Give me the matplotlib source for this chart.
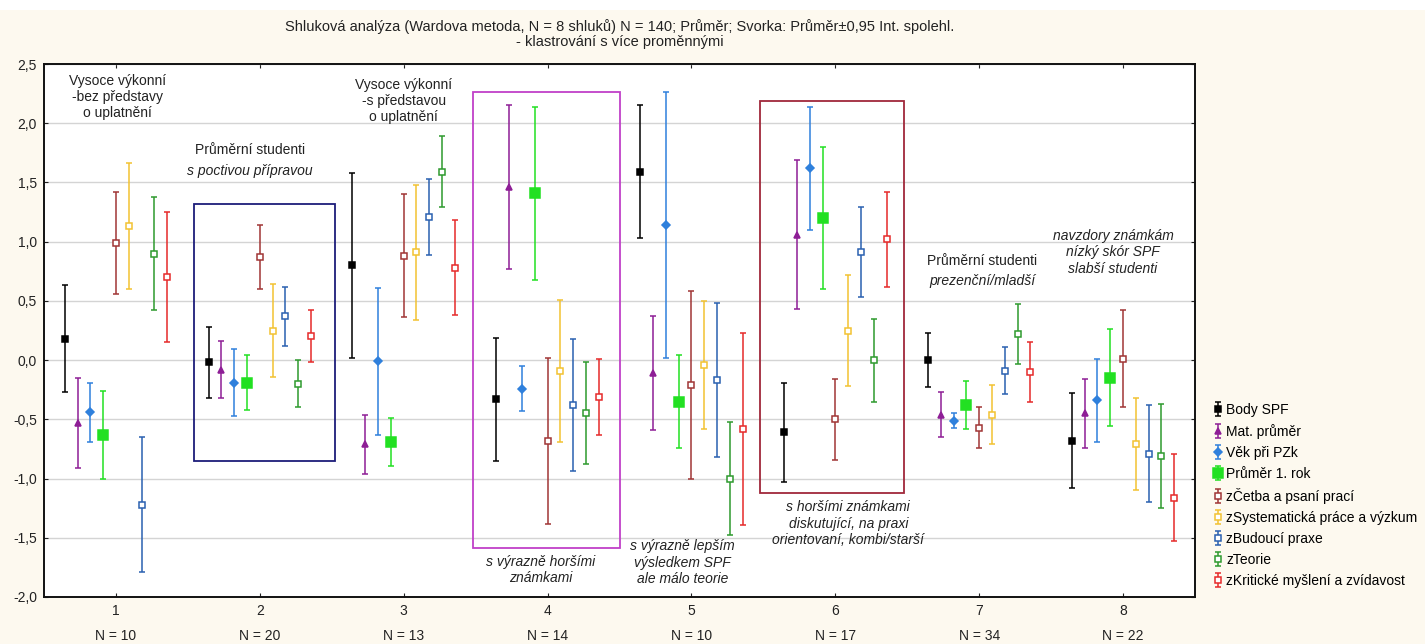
import numpy as np
import matplotlib
matplotlib.use('Agg')
import matplotlib.pyplot as plt
from matplotlib.patches import Rectangle

plt.rcParams['font.family'] = ['Liberation Sans', 'DejaVu Sans']

clusters = [1, 2, 3, 4, 5, 6, 7, 8]
cluster_n = [10, 20, 13, 14, 10, 17, 34, 22]

series_names = ['Body SPF', 'Mat. průměr', 'Věk při PZk', 'Průměr 1. rok',
                'zČetba a psaní prací', 'zSystematická práce a výzkum',
                'zBudoucí praxe', 'zTeorie', 'zKritické myšlení a zvídavost']

# means per cluster
body_spf = [0.18, -0.02, 0.80, -0.33, 1.59, -0.61, 0.00, -0.68]
mat_prumer = [-0.53, -0.08, -0.71, 1.46, -0.11, 1.06, -0.46, -0.45]
vek_pzk = [-0.44, -0.19, -0.01, -0.24, 1.14, 1.62, -0.51, -0.34]
prumer_1rok = [-0.63, -0.19, -0.69, 1.41, -0.35, 1.20, -0.38, -0.15]
z_cetba = [0.99, 0.87, 0.88, -0.68, -0.21, -0.50, -0.57, 0.01]
z_system = [1.13, 0.25, 0.91, -0.09, -0.04, 0.25, -0.46, -0.71]
z_budouci = [-1.22, 0.37, 1.21, -0.38, -0.17, 0.91, -0.09, -0.79]
z_teorie = [0.90, -0.20, 1.59, -0.45, -1.00, 0.00, 0.22, -0.81]
z_kriticke = [0.70, 0.20, 0.78, -0.31, -0.58, 1.02, -0.10, -1.16]

# 0.95 CI half widths
ci_body_spf = [0.45, 0.30, 0.78, 0.52, 0.56, 0.42, 0.23, 0.40]
ci_mat_prumer = [0.38, 0.24, 0.25, 0.69, 0.48, 0.63, 0.19, 0.29]
ci_vek_pzk = [0.25, 0.28, 0.62, 0.19, 1.12, 0.52, 0.06, 0.35]
ci_prumer_1rok = [0.37, 0.23, 0.20, 0.73, 0.39, 0.60, 0.20, 0.41]
ci_z_cetba = [0.43, 0.27, 0.52, 0.70, 0.79, 0.34, 0.17, 0.41]
ci_z_system = [0.53, 0.39, 0.57, 0.60, 0.54, 0.47, 0.25, 0.39]
ci_z_budouci = [0.57, 0.25, 0.32, 0.56, 0.65, 0.38, 0.20, 0.41]
ci_z_teorie = [0.48, 0.20, 0.30, 0.43, 0.48, 0.35, 0.25, 0.44]
ci_z_kriticke = [0.55, 0.22, 0.40, 0.32, 0.81, 0.40, 0.25, 0.37]

means = [body_spf, mat_prumer, vek_pzk, prumer_1rok, z_cetba, z_system,
         z_budouci, z_teorie, z_kriticke]
cis = [ci_body_spf, ci_mat_prumer, ci_vek_pzk, ci_prumer_1rok, ci_z_cetba,
       ci_z_system, ci_z_budouci, ci_z_teorie, ci_z_kriticke]

colors = ['#000000', '#8E1E96', '#2F80DC', '#22E022', '#A03535',
          '#F2C232', '#2A60B0', '#2E9A2E', '#E62A2A']
markers = ['s', '^', 'D', 's', 's', 's', 's', 's', 's']
msizes = [5, 4.5, 4.5, 7, 5, 5, 5, 5, 5]
filled = [True, True, True, True, False, False, False, False, False]

bg = '#FDF9EF'
fig = plt.figure(figsize=(14.25, 6.44), dpi=100, facecolor=bg)
fig.patches.append(Rectangle((0, 1 - 10 / 644), 1, 10 / 644, transform=fig.transFigure,
                             facecolor='white', edgecolor='none'))
ax = fig.add_axes([44 / 1425, 47 / 644, 1151 / 1425, 533 / 644])
ax.set_facecolor('white')

x = np.array(clusters, dtype=float)
step = 0.089
for i in range(len(series_names)):
    xi = x + (i - 4) * step
    fc = colors[i] if filled[i] else 'white'
    ax.errorbar(xi, means[i], yerr=cis[i], fmt=markers[i], color=colors[i],
                mfc=fc, mec=colors[i], mew=1.1, ms=msizes[i], elinewidth=1.1,
                capsize=2.2, capthick=1.0, label=series_names[i], zorder=3)

# boxes around clusters
ax.add_patch(Rectangle((1.54, -0.85), 0.98, 2.17, fill=False, ec='#1C1C7A', lw=1.3, zorder=2))
ax.add_patch(Rectangle((3.48, -1.59), 1.02, 3.85, fill=False, ec='#C040C8', lw=1.3, zorder=2))
ax.add_patch(Rectangle((5.48, -1.12), 1.00, 3.31, fill=False, ec='#A0283A', lw=1.3, zorder=2))

fs = 10
ax.text(1.01, 2.22, 'Vysoce výkonní\n-bez představy\no uplatnění', ha='center', va='center',
        fontsize=fs, color='#222222')
ax.text(1.93, 1.77, 'Průměrní studenti', ha='center', va='center', fontsize=fs, color='#222222')
ax.text(1.93, 1.60, 's poctivou přípravou', ha='center', va='center', fontsize=fs,
        style='italic', color='#222222')
ax.text(3.0, 2.19, 'Vysoce výkonní\n-s představou\no uplatnění', ha='center', va='center',
        fontsize=fs, color='#222222')
ax.text(3.95, -1.77, 's výrazně horšími\nznámkami', ha='center', va='center', fontsize=fs,
        style='italic', color='#222222')
ax.text(4.94, -1.71, 's výrazně lepším\nvýsledkem SPF\nale málo teorie', ha='center',
        va='center', fontsize=fs, style='italic', color='#222222')
ax.text(6.09, -1.38, 's horšími známkami\ndiskutující, na praxi\norientovaní, kombi/starší',
        ha='center', va='center', fontsize=fs, style='italic', color='#222222')
ax.text(7.02, 0.835, 'Průměrní studenti', ha='center', va='center', fontsize=fs, color='#222222')
ax.text(7.02, 0.67, 'prezenční/mladší', ha='center', va='center', fontsize=fs,
        style='italic', color='#222222')
ax.text(7.93, 0.91, 'navzdory známkám\nnízký skór SPF\nslabší studenti', ha='center',
        va='center', fontsize=fs, style='italic', color='#222222')

ax.set_xlim(0.5, 8.5)
ax.set_ylim(-2.0, 2.5)
yt = np.arange(-2.0, 2.51, 0.5)
ax.set_yticks(yt)
ax.set_yticklabels([('%.1f' % v).replace('.', ',') for v in yt])
ax.set_xticks(x)
ax.set_xticklabels(['%d\nN = %d' % (c, n) for c, n in zip(clusters, cluster_n)],
                   linespacing=2.0)
ax.tick_params(direction='in', length=3, top=True, right=True, labelsize=fs,
               colors='#222222', pad=5)
ax.yaxis.grid(True, color='#D4D4D4', lw=1.0, zorder=0)
ax.set_axisbelow(True)
for s in ax.spines.values():
    s.set_linewidth(1.4)
    s.set_color('#111111')

fig.text(620 / 1425, 1 - 34 / 644,
         'Shluková analýza (Wardova metoda, N = 8 shluků) N = 140; Průměr; Svorka: Průměr±0,95 Int. spolehl.\n'
         '- klastrování s více proměnnými', ha='center', va='center', fontsize=10.5,
         linespacing=1.1, color='#222222')

fig.legend(loc='upper left', bbox_to_anchor=(1214 / 1425, 1 - 403 / 644), frameon=False,
           fontsize=fs, handlelength=0.6, handletextpad=0.3, labelspacing=0.5,
           borderaxespad=0, borderpad=0)

fig.savefig('out.png', dpi=100, facecolor=bg)
